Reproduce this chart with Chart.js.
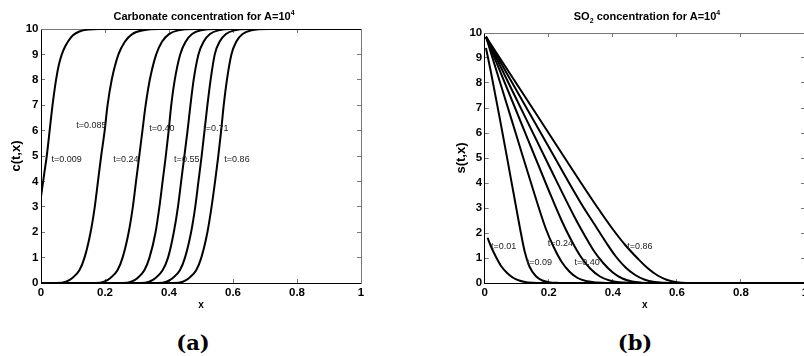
<!DOCTYPE html>
<html>
<head>
<meta charset="utf-8">
<script src="https://cdn.jsdelivr.net/npm/chart.js@4.4.0/dist/chart.umd.min.js"></script>
<style>
body { margin: 0; background: #fff; width: 804px; height: 356px; overflow: hidden; position: relative; font-family: "Liberation Sans", Arial, sans-serif; }
canvas { position: absolute; top: 0; }
.title { position: absolute; top: 10px; line-height: 12px; font-size: 11px; font-weight: bold; white-space: nowrap; transform: translateX(-50%); }
.title sup, .title sub { font-size: 7px; line-height: 0; }
.cap { position: absolute; top: 342px; font-family: "DejaVu Serif", serif; font-weight: bold; font-size: 21px; transform: translate(-50%, -50%); }
</style>
</head>
<body>
<canvas id="carb" width="400" height="316" style="left:0"></canvas>
<canvas id="so2" width="460" height="316" style="left:420px"></canvas>
<div class="title" style="left:204px">Carbonate concentration for A=10<sup>4</sup></div>
<div class="title" style="left:647px">SO<sub>2</sub> concentration for A=10<sup>4</sup></div>
<div class="cap" style="left:193px">(a)</div>
<div class="cap" style="left:635px">(b)</div>
<script>
// tick values
var xTicks = [0, 0.2, 0.4, 0.6, 0.8, 1];
var yTicks = [0, 1, 2, 3, 4, 5, 6, 7, 8, 9, 10];

// carbonate c(t,x) (a)  [x, c]
var carb_t0009 = [[0,3.4],[0.01,4.3],[0.018,5],[0.027,6],[0.036,7],[0.047,8],[0.056,8.6],[0.065,9.0],[0.075,9.3],[0.085,9.52],[0.1,9.75],[0.12,9.9],[0.15,9.98],[0.18,10],[1,10]];
var carb_t0085 = [[0,0],[0.05,0],[0.078,0.05],[0.098,0.2],[0.12,0.5],[0.136,1],[0.155,2],[0.168,3],[0.178,4],[0.188,5],[0.199,6],[0.208,7],[0.221,8],[0.242,9],[0.262,9.5],[0.285,9.8],[0.32,9.95],[0.37,10],[1,10]];
var carb_t024 = [[0,0],[0.17,0],[0.197,0.05],[0.217,0.2],[0.239,0.5],[0.255,1],[0.274,2],[0.287,3],[0.297,4],[0.307,5],[0.317,6],[0.327,7],[0.34,8],[0.36,9],[0.378,9.5],[0.4,9.8],[0.43,9.95],[0.48,10],[1,10]];
var carb_t040 = [[0,0],[0.255,0],[0.282,0.05],[0.302,0.2],[0.323,0.5],[0.339,1],[0.358,2],[0.37,3],[0.38,4],[0.39,5],[0.399,6],[0.407,7],[0.418,8],[0.435,9],[0.452,9.5],[0.472,9.8],[0.5,9.95],[0.55,10],[1,10]];
var carb_t055 = [[0,0],[0.31,0],[0.338,0.05],[0.358,0.2],[0.38,0.5],[0.397,1],[0.415,2],[0.428,3],[0.438,4],[0.448,5],[0.458,6],[0.467,7],[0.477,8],[0.492,9],[0.508,9.5],[0.528,9.8],[0.555,9.95],[0.6,10],[1,10]];
var carb_t071 = [[0,0],[0.365,0],[0.392,0.05],[0.412,0.2],[0.434,0.5],[0.45,1],[0.469,2],[0.482,3],[0.492,4],[0.502,5],[0.511,6],[0.52,7],[0.53,8],[0.543,9],[0.558,9.5],[0.578,9.8],[0.605,9.95],[0.65,10],[1,10]];
var carb_t086 = [[0,0],[0.415,0],[0.443,0.05],[0.463,0.2],[0.485,0.5],[0.501,1],[0.52,2],[0.533,3],[0.544,4],[0.554,5],[0.563,6],[0.571,7],[0.581,8],[0.595,9],[0.61,9.5],[0.63,9.8],[0.658,9.95],[0.71,10],[1,10]];

// SO2 s(t,x) (b)  [x, s]
var so2_t001 = [[0.009,1.81],[0.02,1.45],[0.035,1.05],[0.05,0.7],[0.07,0.4],[0.09,0.2],[0.11,0.09],[0.13,0.03],[0.15,0.01],[0.18,0],[1,0]];
var so2_t009 = [[0.004,9.4],[0.02,8.4],[0.048,6.52],[0.07,5.0],[0.09,3.6],[0.11,2.2],[0.125,1.25],[0.14,0.65],[0.16,0.27],[0.18,0.1],[0.2,0.035],[0.23,0.005],[0.26,0],[1,0]];
var so2_t024 = [[0.004,9.85],[0.05,7.94],[0.1,5.86],[0.15,3.78],[0.19,2.2],[0.215,1.45],[0.24,0.85],[0.265,0.45],[0.29,0.2],[0.32,0.07],[0.35,0.02],[0.38,0],[1,0]];
var so2_t040 = [[0.004,9.85],[0.1,6.84],[0.2,3.7],[0.24,2.5],[0.27,1.72],[0.3,1.05],[0.33,0.57],[0.36,0.26],[0.39,0.1],[0.42,0.03],[0.45,0.005],[0.48,0],[1,0]];
var so2_t055 = [[0.004,9.85],[0.1,7.33],[0.2,4.71],[0.28,2.65],[0.31,1.95],[0.34,1.3],[0.37,0.8],[0.4,0.42],[0.43,0.18],[0.46,0.06],[0.49,0.015],[0.52,0],[1,0]];
var so2_t071 = [[0.004,9.85],[0.1,7.69],[0.2,5.44],[0.3,3.2],[0.35,2.2],[0.38,1.6],[0.41,1.05],[0.44,0.62],[0.47,0.32],[0.5,0.13],[0.53,0.04],[0.56,0.01],[0.59,0],[1,0]];
var so2_t086 = [[0.004,9.85],[0.1,7.96],[0.2,5.99],[0.3,4.02],[0.35,3.06],[0.4,2.15],[0.44,1.5],[0.48,0.95],[0.51,0.58],[0.54,0.3],[0.57,0.12],[0.6,0.03],[0.63,0],[1,0]];

// curve labels: text, x, y (data units, left edge / middle)
var carbLabels = [['t=0.009',0.033,4.85],['t=0.085',0.11,6.2],['t=0.24',0.226,4.85],['t=0.40',0.338,6.1],['t=0.55',0.416,4.85],['t=0.71',0.507,6.1],['t=0.86',0.573,4.85]];
var so2Labels = [['t=0.01',0.02,1.45],['t=0.09',0.131,0.8],['t=0.24',0.197,1.56],['t=0.40',0.28,0.83],['t=0.86',0.445,1.45]];

var curveLabels = {
  id: 'curveLabels',
  afterDatasetsDraw: function(chart, args, opts) {
    var ctx = chart.ctx, xs = chart.scales.x, ys = chart.scales.y;
    ctx.save();
    ctx.font = '9px "Liberation Sans", Arial, sans-serif';
    ctx.fillStyle = '#222';
    ctx.textAlign = 'left';
    ctx.textBaseline = 'middle';
    opts.items.forEach(function(l) {
      ctx.fillText(l[0], xs.getPixelForValue(l[1]), ys.getPixelForValue(l[2]));
    });
    ctx.restore();
  }
};

function toPts(arr) {
  return arr.map(function(p) { return {x: p[0], y: p[1]}; });
}

function mirrorAxis(pos, min, max, ticks) {
  return {
    type: 'linear', position: pos, min: min, max: max,
    afterBuildTicks: function(s) { s.ticks = ticks.map(function(v) { return {value: v}; }); },
    afterFit: function(s) { if (pos === 'top') s.height = 0; else s.width = 0; },
    ticks: {display: false},
    grid: {drawOnChartArea: false, tickLength: -4, color: '#777'},
    border: {display: true, color: '#777', width: 1}
  };
}

function makeChart(id, series, labels, yTitle, o) {
  var tickFont = {family: '"Liberation Sans", Arial, sans-serif', size: 11.5, weight: 'bold'};
  new Chart(document.getElementById(id), {
    type: 'line',
    data: {
      datasets: series.map(function(s) {
        return {data: toPts(s), borderColor: '#000', borderWidth: 2, pointRadius: 0,
                cubicInterpolationMode: 'monotone', fill: false};
      })
    },
    options: {
      responsive: false, animation: false, events: [],
      layout: {padding: {left: o.padLeft, right: o.padRight, top: o.padTop, bottom: 0}},
      plugins: {legend: {display: false}, tooltip: {enabled: false}, curveLabels: {items: labels}},
      scales: {
        x: {
          type: 'linear', position: 'bottom', min: 0, max: 1,
          afterBuildTicks: function(s) { s.ticks = xTicks.map(function(v) { return {value: v}; }); },
          afterFit: function(s) { s.height = 33; },
          ticks: {color: '#000', font: tickFont, padding: 6.5, maxRotation: 0, autoSkip: false,
                  callback: function(v) { return String(v); }},
          grid: {drawOnChartArea: false, tickLength: -4, color: '#777'},
          border: {display: true, color: '#000', width: 1},
          title: {display: true, text: 'x', color: '#000', padding: {top: 0, bottom: 5},
                  font: {family: '"Liberation Sans", Arial, sans-serif', size: 10, weight: 'bold'}}
        },
        y: {
          type: 'linear', position: 'left', min: 0, max: 10,
          afterBuildTicks: function(s) { s.ticks = yTicks.map(function(v) { return {value: v}; }); },
          afterFit: function(s) { s.width = o.yWidth; },
          ticks: {color: '#000', font: tickFont, padding: 6.5, autoSkip: false},
          grid: {drawOnChartArea: false, tickLength: -4, color: '#777'},
          border: {display: true, color: '#000', width: 1},
          title: {display: true, text: yTitle, color: '#000', padding: {top: o.yTitlePad, bottom: 0},
                  font: {family: '"Liberation Sans", Arial, sans-serif', size: 13, weight: 'bold'}}
        },
        x2: mirrorAxis('top', 0, 1, xTicks),
        y2: mirrorAxis('right', 0, 10, yTicks)
      }
    },
    plugins: [curveLabels]
  });
}

makeChart('carb',
  [carb_t0009, carb_t0085, carb_t024, carb_t040, carb_t055, carb_t071, carb_t086],
  carbLabels, 'c(t,x)',
  {padLeft: 0, padRight: 39, padTop: 29, yWidth: 41, yTitlePad: 9});

makeChart('so2',
  [so2_t001, so2_t009, so2_t024, so2_t040, so2_t055, so2_t071, so2_t086],
  so2Labels, 's(t,x)',
  {padLeft: 30, padRight: 75, padTop: 33, yWidth: 34.7, yTitlePad: 4});
</script>
</body>
</html>
